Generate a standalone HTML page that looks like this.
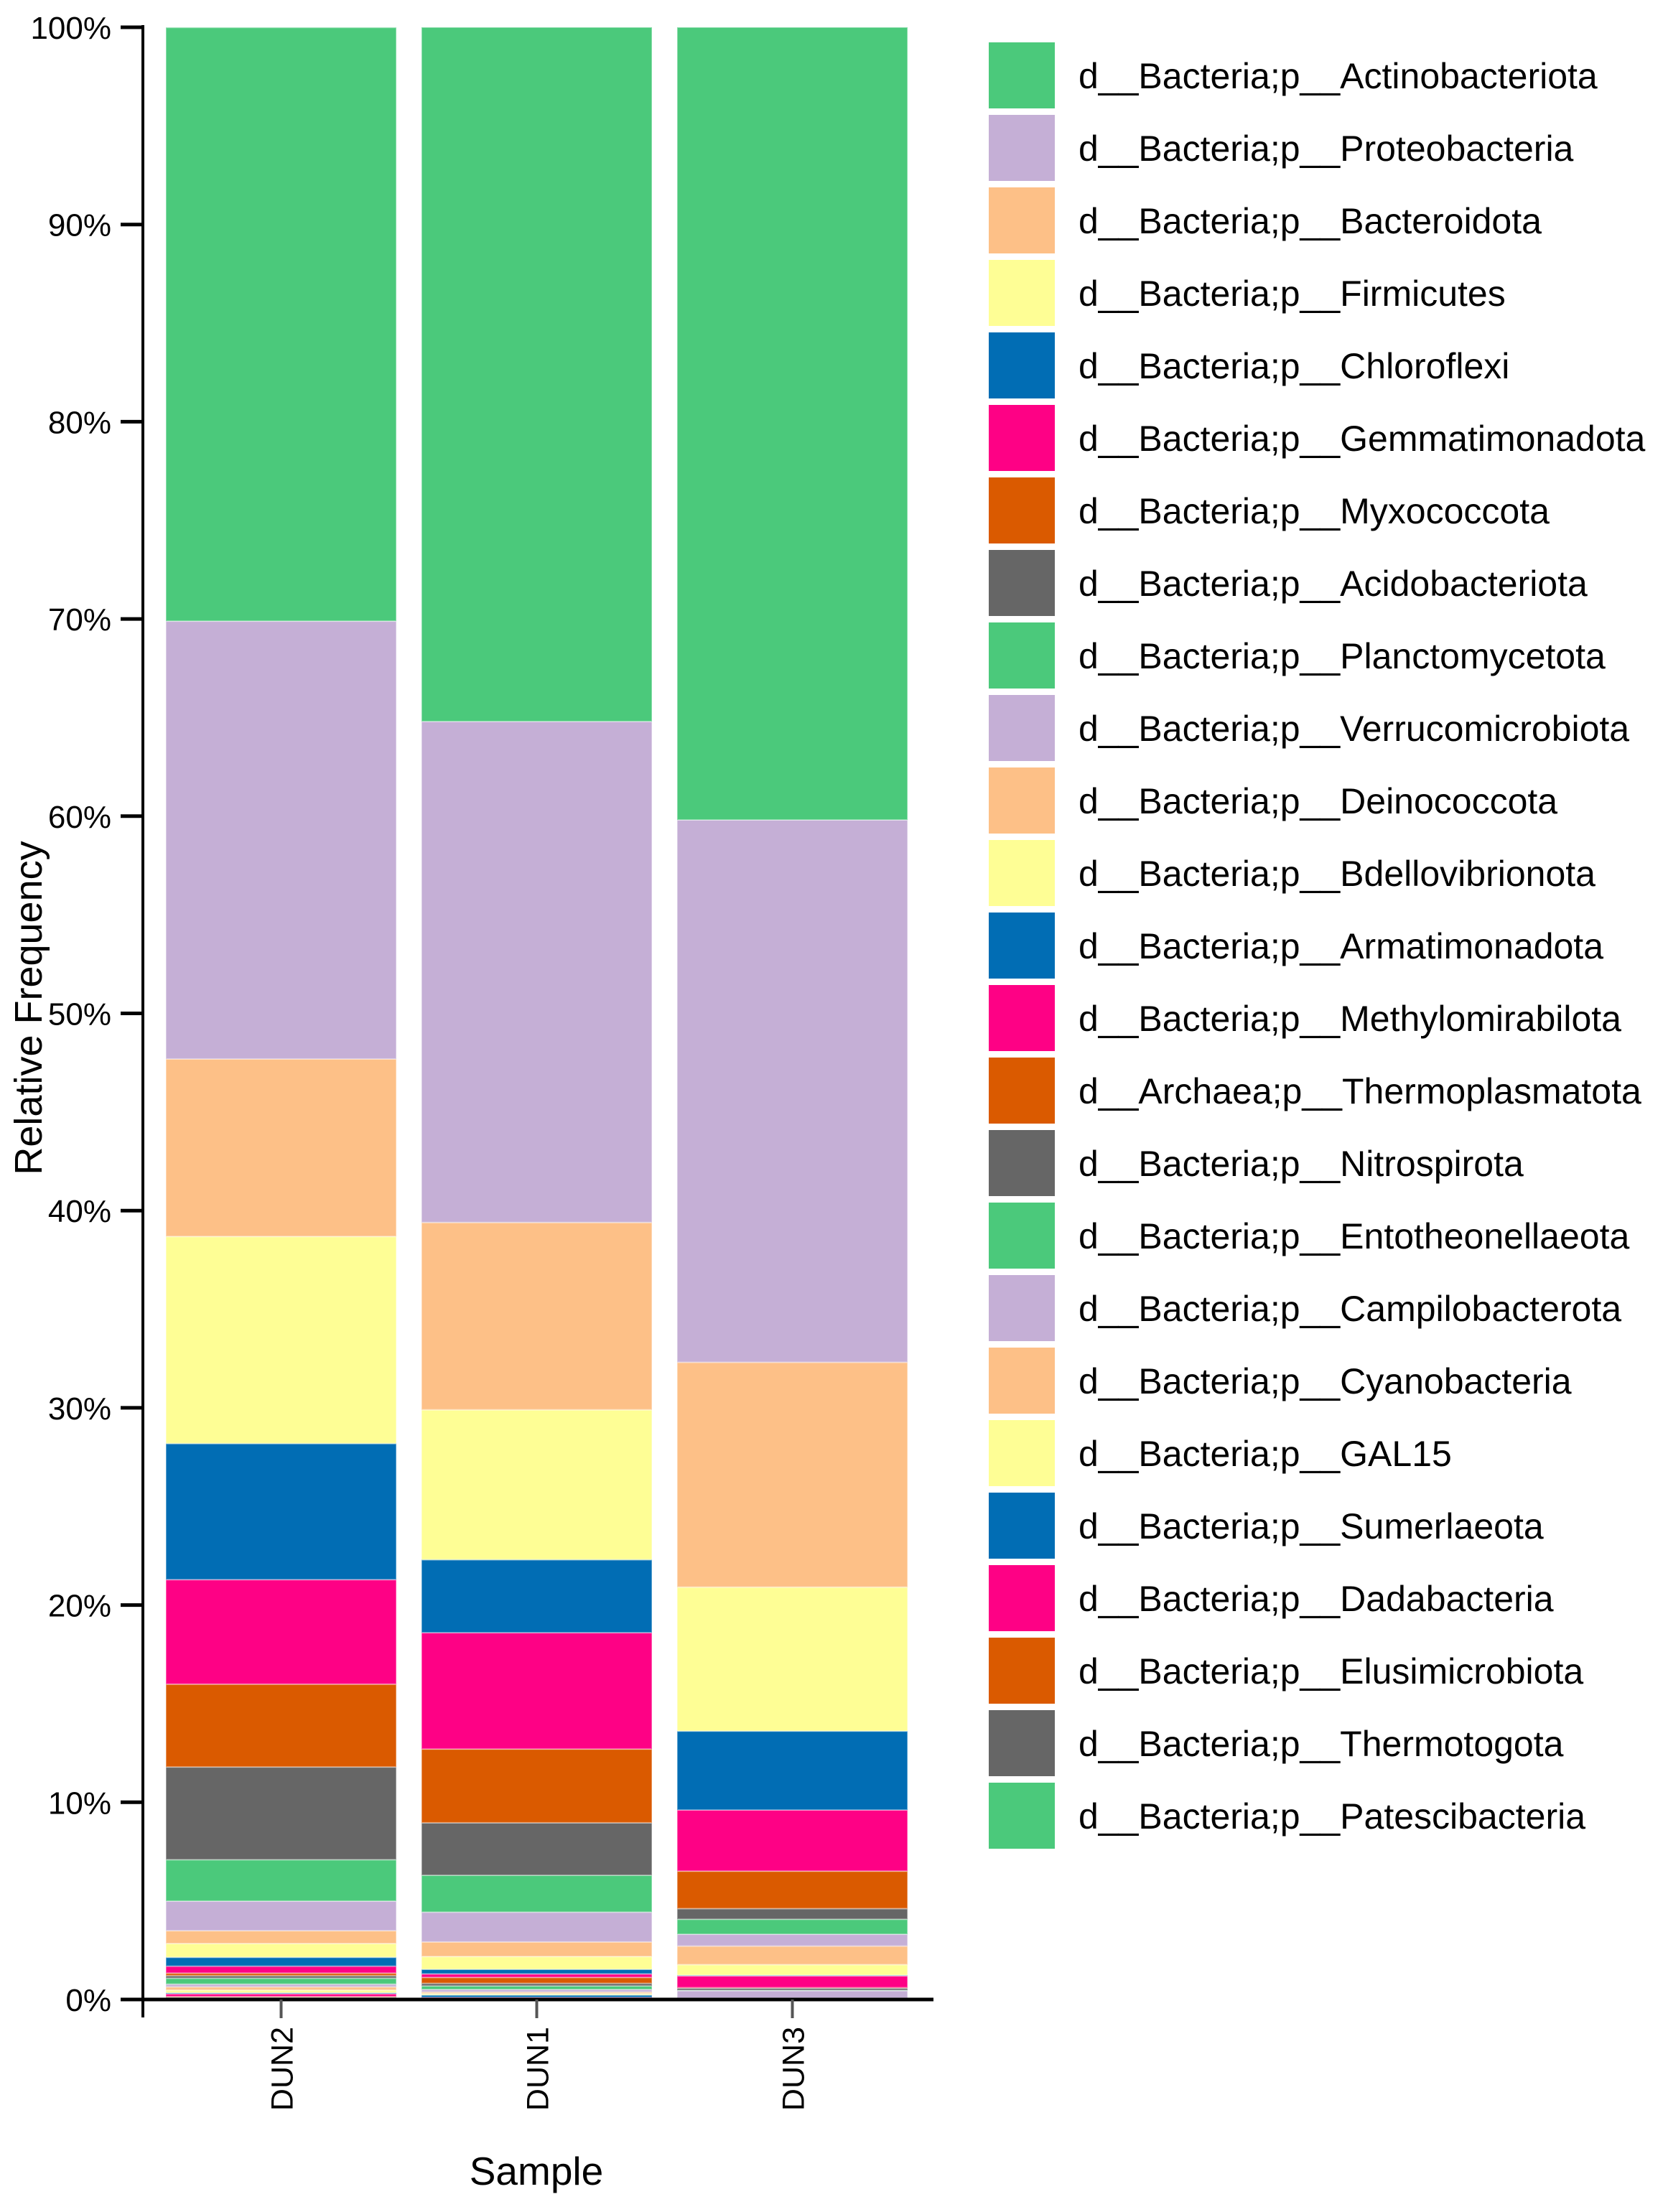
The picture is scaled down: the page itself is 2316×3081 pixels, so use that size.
<!DOCTYPE html>
<html><head><meta charset="utf-8"><style>
html,body{margin:0;padding:0;background:#fff;}
svg{display:block;font-family:"Liberation Sans",Arial,sans-serif;}
</style></head><body>
<svg id="chart" width="2316" height="3081" viewBox="0 0 2316 3081" xmlns="http://www.w3.org/2000/svg">
<g id="bars"></g>
<g id="axes"></g>
<g id="legend"></g>
</svg>
<script>
const samples = ["DUN2", "DUN1", "DUN3"];
const taxa = ["d__Bacteria;p__Actinobacteriota","d__Bacteria;p__Proteobacteria","d__Bacteria;p__Bacteroidota","d__Bacteria;p__Firmicutes","d__Bacteria;p__Chloroflexi","d__Bacteria;p__Gemmatimonadota","d__Bacteria;p__Myxococcota","d__Bacteria;p__Acidobacteriota","d__Bacteria;p__Planctomycetota","d__Bacteria;p__Verrucomicrobiota","d__Bacteria;p__Deinococcota","d__Bacteria;p__Bdellovibrionota","d__Bacteria;p__Armatimonadota","d__Bacteria;p__Methylomirabilota","d__Archaea;p__Thermoplasmatota","d__Bacteria;p__Nitrospirota","d__Bacteria;p__Entotheonellaeota","d__Bacteria;p__Campilobacterota","d__Bacteria;p__Cyanobacteria","d__Bacteria;p__GAL15","d__Bacteria;p__Sumerlaeota","d__Bacteria;p__Dadabacteria","d__Bacteria;p__Elusimicrobiota","d__Bacteria;p__Thermotogota","d__Bacteria;p__Patescibacteria"];
const dun2 = [30.1,22.2,9.0,10.5,6.9,5.3,4.2,4.7,2.1,1.5,0.65,0.7,0.45,0.35,0.13,0.13,0.3,0.14,0.16,0.14,0.05,0.14,0.03,0.05,0.07];
const dun1 = [35.2,25.4,9.5,7.6,3.7,5.9,3.74,2.66,1.87,1.51,0.74,0.65,0.23,0.18,0.3,0.13,0.18,0.13,0.08,0.07,0.12,0.04,0.03,0.02,0.02];
const dun3 = [40.2,27.5,11.4,7.3,4.0,3.1,1.9,0.54,0.76,0.6,0.94,0.54,0.03,0.6,0.02,0.11,0.02,0.38,0.01,0.01,0.01,0.01,0.01,0.01,0.01];
const yTicks = [0,10,20,30,40,50,60,70,80,90,100];
const series = [dun2, dun1, dun3];
const palette = ["#4BC97B","#C5AFD6","#FDC087","#FEFE95","#016DB4","#FE0185","#DA5A00","#666666"];

const NS = "http://www.w3.org/2000/svg";
const Y0 = 2785, Y100 = 38, X0 = 231, STEP = 356, BW = 321;
function yScale(v){ return Y0 - (Y0 - Y100) * v / 100; }
function xScale(i){ return X0 + i * STEP; }
function mk(tag, attrs, parent){ const e = document.createElementNS(NS, tag); for (const k in attrs) e.setAttribute(k, attrs[k]); parent.appendChild(e); return e; }

const barsG = document.getElementById('bars');
series.forEach((vals, si) => {
  const g = mk('g', {}, barsG);
  
  
  let cum = 0;
  for (let t = taxa.length - 1; t >= 0; t--) {
    const v = vals[t];
    const y1 = yScale(cum), y2 = yScale(Math.min(cum + v, 100));
    cum += v;
    const r = mk('rect', {x: xScale(si), y: y2, width: BW, height: Math.max(0, y1 - y2), fill: palette[t % 8], stroke: 'rgba(255,255,255,0.35)', 'stroke-width': 2}, g);
    
    
  }
});

const ax = document.getElementById('axes');
const yl = mk('line', {x1: 199, y1: Y100 - 3, x2: 199, y2: 2810, stroke: '#000', 'stroke-width': 4}, ax);


const xl = mk('line', {x1: 194, y1: Y0, x2: 1300, y2: Y0, stroke: '#000', 'stroke-width': 5}, ax);


yTicks.forEach(v => {
  const y = yScale(v);
  const tk = mk('line', {x1: 168, y1: y, x2: 199, y2: y, stroke: '#000', 'stroke-width': 5}, ax);
  
  
  const tx = mk('text', {x: 155, y: y + 16, 'font-size': 44, 'text-anchor': 'end', fill: '#000'}, ax);
  tx.textContent = v + '%';
  
  
});
samples.forEach((s, i) => {
  const cx = xScale(i) + BW / 2;
  const tk = mk('line', {x1: cx, y1: Y0, x2: cx, y2: 2811, stroke: '#555', 'stroke-width': 4}, ax);
  
  
  const tx = mk('text', {x: 0, y: 0, 'font-size': 43, 'text-anchor': 'end', fill: '#000', transform: 'translate(' + (cx + 16) + ',2823) rotate(-90)'}, ax);
  tx.textContent = s;
  
  
});
const xt = mk('text', {x: 747, y: 3043, 'font-size': 55, 'text-anchor': 'middle', fill: '#000'}, ax);
xt.textContent = 'Sample';


const yt = mk('text', {x: 0, y: 0, 'font-size': 54, 'text-anchor': 'middle', fill: '#000', transform: 'translate(58,1404) rotate(-90)'}, ax);
yt.textContent = 'Relative Frequency';



const lg = document.getElementById('legend');
taxa.forEach((name, i) => {
  const y = 59 + i * 101;
  const g = mk('g', {}, lg);
  
  
  const sw = mk('rect', {x: 1377, y: y, width: 92, height: 92, fill: palette[i % 8]}, g);
  
  
  const tx = mk('text', {x: 1502, y: y + 64, 'font-size': 50, fill: '#000'}, g);
  tx.textContent = name;
  
  
});
</script>
</body></html>
